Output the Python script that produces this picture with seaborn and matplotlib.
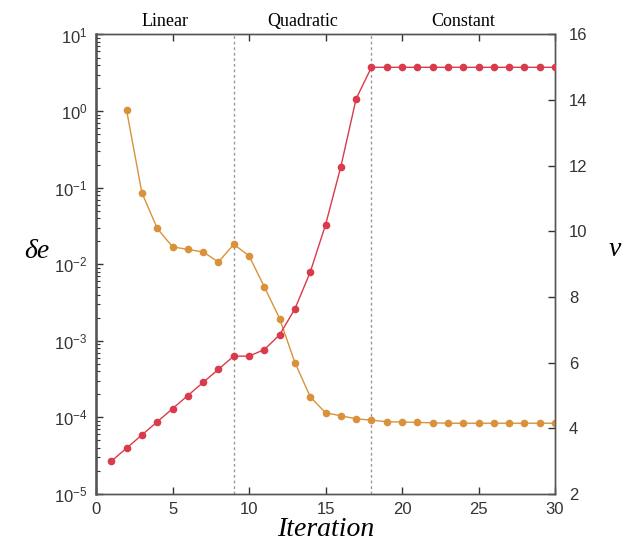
import numpy as np
import pandas as pd
import matplotlib
matplotlib.use("Agg")
import matplotlib.pyplot as plt
import seaborn as sns
from matplotlib.ticker import FixedLocator, FuncFormatter, NullFormatter

# ---- data ----
iter_de = list(range(2, 31))
delta_e = [1.02, 0.0855, 0.0294, 0.0169, 0.0156, 0.0145, 0.0107, 0.0182, 0.0129,
           0.00508, 0.00195, 5.2e-4, 1.86e-4, 1.15e-4, 1.05e-4, 9.6e-5, 9.2e-5,
           8.8e-5, 8.7e-5, 8.6e-5, 8.5e-5, 8.4e-5, 8.4e-5, 8.4e-5, 8.4e-5, 8.4e-5,
           8.4e-5, 8.4e-5, 8.4e-5]
iter_nu = list(range(1, 31))
nu = [3.0, 3.4, 3.8, 4.2, 4.6, 5.0, 5.4, 5.8, 6.2, 6.2, 6.4, 6.85, 7.64, 8.76,
      10.2, 11.97, 14.04, 15.0, 15.0, 15.0, 15.0, 15.0, 15.0, 15.0, 15.0, 15.0,
      15.0, 15.0, 15.0, 15.0]
phase_bounds = [9, 18]
phase_labels = ["Linear", "Quadratic", "Constant"]
phase_centers = [4.5, 13.5, 24]
x_ticks = [0, 5, 10, 15, 20, 25, 30]
de_exponents = [-5, -4, -3, -2, -1, 0, 1]
nu_ticks = [2, 4, 6, 8, 10, 12, 14, 16]

df_de = pd.DataFrame({"it": iter_de, "de": delta_e})
df_nu = pd.DataFrame({"it": iter_nu, "nu": nu})

sns.set_style("ticks")
plt.rcParams["font.family"] = ["Liberation Sans", "DejaVu Sans"]
plt.rcParams["mathtext.fontset"] = "custom"
plt.rcParams["mathtext.rm"] = "Liberation Sans"
plt.rcParams["mathtext.it"] = "Liberation Sans:italic"
plt.rcParams["axes.unicode_minus"] = False

orange = "#DA923A"
red = "#D93A4C"
tick_col = "#333333"
spine_col = "#555555"

fig = plt.figure(figsize=(6.28, 5.5), dpi=100)
ax = fig.add_axes([0.1529, 0.1018, 0.7309, 0.8355])
ax2 = ax.twinx()

sns.lineplot(data=df_de, x="it", y="de", ax=ax, color=orange, marker="o",
             markersize=5.5, markeredgewidth=0, linewidth=1.0, zorder=3)
sns.lineplot(data=df_nu, x="it", y="nu", ax=ax2, color=red, marker="o",
             markersize=5.5, markeredgewidth=0, linewidth=1.0, zorder=3)

ax.set_yscale("log")
ax.set_ylim(1e-5, 1e1)
ax.set_xlim(0, 30)
ax2.set_ylim(2, 16)

for b in phase_bounds:
    ax.axvline(b, color="#999999", linestyle=(0, (2, 2)), linewidth=1.0, zorder=1)

major_vals = [10.0 ** e for e in de_exponents]
minor_vals = [m * 10.0 ** e for e in de_exponents[:-1] for m in range(2, 10)]
ax.xaxis.set_major_locator(FixedLocator(x_ticks))
ax.yaxis.set_major_locator(FixedLocator(major_vals))
ax.yaxis.set_minor_locator(FixedLocator(minor_vals))
ax.yaxis.set_minor_formatter(NullFormatter())
ax.yaxis.set_major_formatter(FuncFormatter(lambda v, p: r"$10^{%d}$" % int(round(np.log10(v)))))
ax2.yaxis.set_major_locator(FixedLocator(nu_ticks))

ax.tick_params(axis="x", which="both", direction="in", top=True, length=5,
               width=1, labelsize=12, colors=tick_col, pad=6)
ax.tick_params(axis="y", which="major", direction="in", right=False, length=5,
               width=1, labelsize=12, colors=tick_col, pad=6)
ax.tick_params(axis="y", which="minor", direction="in", right=False, length=3,
               width=0.8, colors=tick_col)
ax2.tick_params(axis="y", which="major", direction="in", length=5, width=1,
                labelsize=12, colors=tick_col, pad=10)
ax2.tick_params(axis="y", which="minor", length=0)

for a in (ax, ax2):
    for s in a.spines.values():
        s.set_visible(True)
        s.set_color(spine_col)
        s.set_linewidth(1.0)
ax2.spines["left"].set_linewidth(1.8)

ax.set_xlabel("Iteration", family="Liberation Serif", style="italic",
              fontsize=20, color="black", labelpad=0)
ax.set_ylabel("δe", family="Liberation Serif", style="italic",
              fontsize=20, color="black", rotation=0, labelpad=0)
ax.yaxis.set_label_coords(-0.13, 0.5)
ax2.set_ylabel("ν", family="Liberation Serif", style="italic",
               fontsize=20, color="black", rotation=0, labelpad=0)
ax2.yaxis.set_label_coords(1.13, 0.56)

for lab, cx in zip(phase_labels, phase_centers):
    ax.text(cx, 1.01, lab, transform=ax.get_xaxis_transform(), ha="center",
            va="bottom", family="Liberation Serif", fontsize=13, color="black")

fig.savefig("out.png", dpi=100)
